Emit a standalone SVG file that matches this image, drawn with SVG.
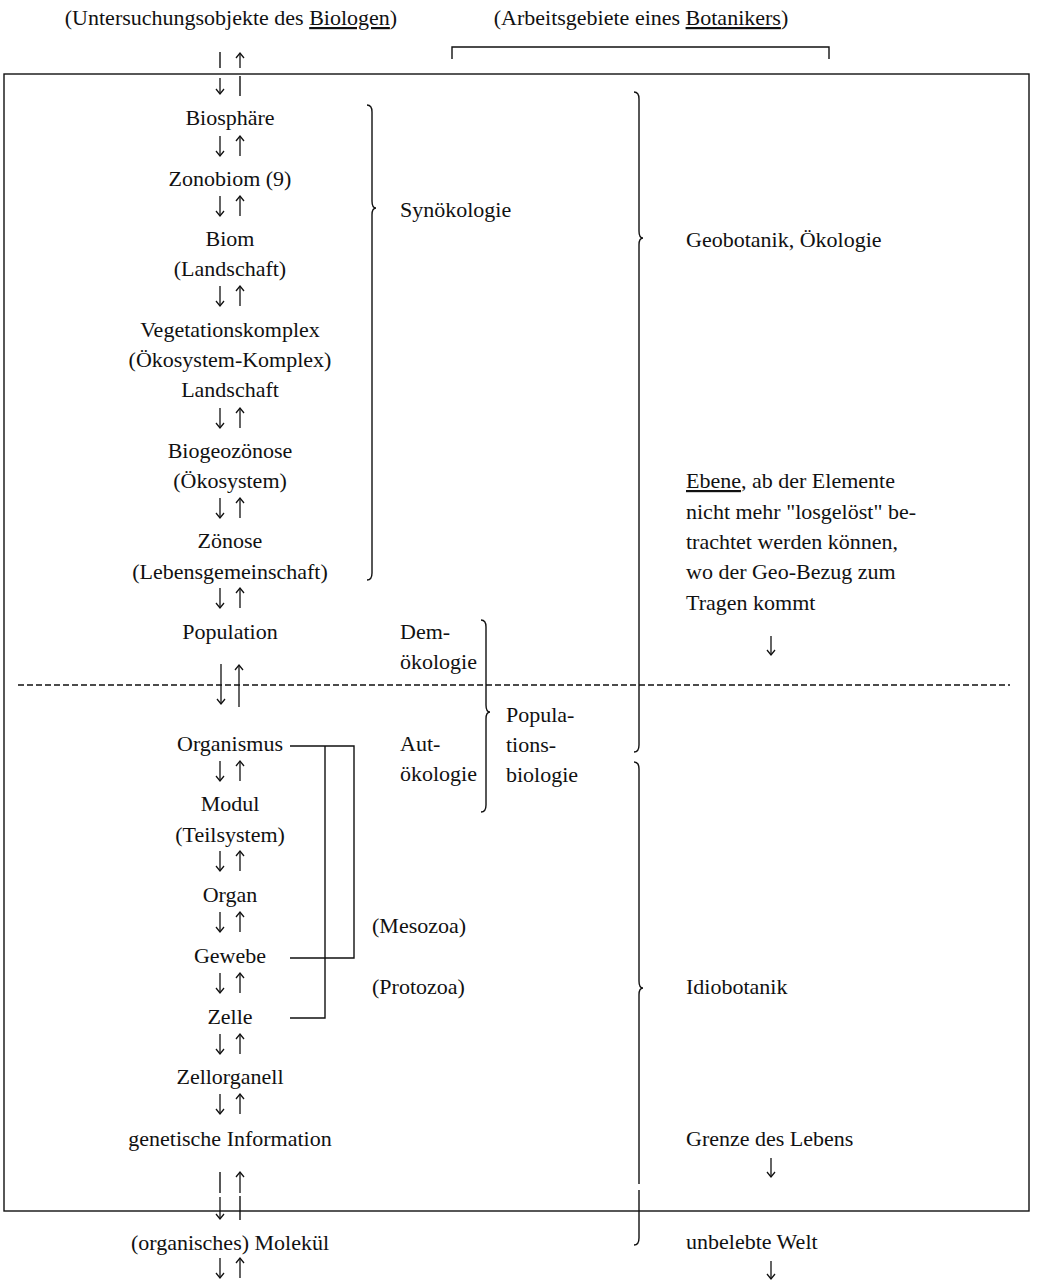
<svg xmlns="http://www.w3.org/2000/svg" width="1037" height="1282" viewBox="0 0 1037 1282">
<defs>
<style>
text{font-family:"Liberation Serif","Times New Roman",serif;font-size:22px;fill:#111}
.c{text-anchor:middle}
.ln{fill:none;stroke:#111;stroke-width:1.4}
.ar{fill:none;stroke:#111;stroke-width:1.3;marker-end:url(#ah)}
.u{text-decoration:underline}
</style>
<marker id="ah" viewBox="-6 -6 12 12" markerWidth="12" markerHeight="12" refX="0" refY="0" orient="auto" markerUnits="userSpaceOnUse">
<path d="M-5,-4 L0,0 L-5,4" fill="none" stroke="#111" stroke-width="1.3"/>
</marker>
</defs>
<rect width="1037" height="1282" fill="#fff"/>

<g id="frame">
<rect x="4" y="74" width="1025" height="1137" class="ln"/>
<line x1="18" y1="685" x2="1010" y2="685" stroke="#111" stroke-width="1.4" stroke-dasharray="6,3"/>
<path d="M452,59 V47 H829 V59" class="ln"/>
</g>

<g id="titles">
<text x="231" y="25" class="c">(Untersuchungsobjekte des <tspan class="u">Biologen</tspan>)</text>
<text x="641" y="25" class="c">(Arbeitsgebiete eines <tspan class="u">Botanikers</tspan>)</text>
</g>

<g id="n-biosphaere"><text x="230" y="125" class="c">Biosphäre</text></g>
<g id="n-zonobiom"><text x="230" y="186" class="c">Zonobiom (9)</text></g>
<g id="n-biom"><text x="230" y="246" class="c">Biom</text><text x="230" y="276" class="c">(Landschaft)</text></g>
<g id="n-vegetationskomplex"><text x="230" y="337" class="c">Vegetationskomplex</text><text x="230" y="367" class="c">(Ökosystem-Komplex)</text><text x="230" y="397" class="c">Landschaft</text></g>
<g id="n-biogeozoenose"><text x="230" y="458" class="c">Biogeozönose</text><text x="230" y="488" class="c">(Ökosystem)</text></g>
<g id="n-zoenose"><text x="230" y="548" class="c">Zönose</text><text x="230" y="579" class="c">(Lebensgemeinschaft)</text></g>
<g id="n-population"><text x="230" y="639" class="c">Population</text></g>
<g id="n-organismus"><text x="230" y="751" class="c">Organismus</text></g>
<g id="n-modul"><text x="230" y="811" class="c">Modul</text><text x="230" y="842" class="c">(Teilsystem)</text></g>
<g id="n-organ"><text x="230" y="902" class="c">Organ</text></g>
<g id="n-gewebe"><text x="230" y="963" class="c">Gewebe</text></g>
<g id="n-zelle"><text x="230" y="1024" class="c">Zelle</text></g>
<g id="n-zellorganell"><text x="230" y="1084" class="c">Zellorganell</text></g>
<g id="n-geninfo"><text x="230" y="1146" class="c">genetische Information</text></g>
<g id="n-molekuel"><text x="230" y="1250" class="c">(organisches) Molekül</text></g>

<g id="n-synoekologie"><text x="400" y="217">Synökologie</text></g>
<g id="n-demoekologie"><text x="400" y="639">Dem-</text><text x="400" y="669">ökologie</text></g>
<g id="n-autoekologie"><text x="400" y="751">Aut-</text><text x="400" y="781">ökologie</text></g>
<g id="n-populationsbiologie"><text x="506" y="722">Popula-</text><text x="506" y="752">tions-</text><text x="506" y="782">biologie</text></g>
<g id="n-mesozoa"><text x="372" y="933">(Mesozoa)</text></g>
<g id="n-protozoa"><text x="372" y="994">(Protozoa)</text></g>

<g id="n-geobotanik"><text x="686" y="247">Geobotanik, Ökologie</text></g>
<g id="n-ebene">
<text x="686" y="488"><tspan class="u">Ebene</tspan>, ab der Elemente</text>
<text x="686" y="519">nicht mehr "losgelöst" be-</text>
<text x="686" y="549">trachtet werden können,</text>
<text x="686" y="579">wo der Geo-Bezug zum</text>
<text x="686" y="610">Tragen kommt</text>
</g>
<g id="n-idiobotanik"><text x="686" y="994">Idiobotanik</text></g>
<g id="n-grenze"><text x="686" y="1146">Grenze des Lebens</text></g>
<g id="n-unbelebt"><text x="686" y="1249">unbelebte Welt</text></g>

<g id="braces" class="ln">
<path d="M367,105 Q372,105 372,112 V201 Q372,208 376,208 Q372,208 372,215 V573 Q372,580 367,580"/>
<path d="M634,92 Q639,92 639,99 V231 Q639,238 643,238 Q639,238 639,245 V745 Q639,752 634,752"/>
<path d="M634,762 Q639,762 639,769 V981 Q639,988 643,988 Q639,988 639,995 V1184 M639,1190 V1238 Q639,1245 634,1245"/>
<path d="M481,620 Q486,620 486,627 V705 Q486,712 490,712 Q486,712 486,719 V805 Q486,812 481,812"/>
</g>

<g id="connectors">
<path d="M290,746 H354 V958 H290" class="ln"/>
<path d="M325,746 V1018 H290" class="ln"/>
<line x1="220" y1="52" x2="220" y2="68" class="ln"/>
<line x1="220" y1="78" x2="220" y2="94" class="ar"/>
<line x1="240" y1="68" x2="240" y2="53" class="ar"/>
<line x1="240" y1="76" x2="240" y2="96" class="ln"/>
<line x1="220" y1="136" x2="220" y2="156" class="ar"/><line x1="240" y1="156" x2="240" y2="136" class="ar"/>
<line x1="220" y1="196" x2="220" y2="216" class="ar"/><line x1="240" y1="216" x2="240" y2="196" class="ar"/>
<line x1="220" y1="286" x2="220" y2="306" class="ar"/><line x1="240" y1="306" x2="240" y2="286" class="ar"/>
<line x1="220" y1="408" x2="220" y2="428" class="ar"/><line x1="240" y1="428" x2="240" y2="408" class="ar"/>
<line x1="220" y1="498" x2="220" y2="518" class="ar"/><line x1="240" y1="518" x2="240" y2="498" class="ar"/>
<line x1="220" y1="588" x2="220" y2="608" class="ar"/><line x1="240" y1="608" x2="240" y2="588" class="ar"/>
<line x1="221" y1="664" x2="221" y2="704" class="ar"/><line x1="239" y1="707" x2="239" y2="665" class="ar"/>
<line x1="220" y1="761" x2="220" y2="781" class="ar"/><line x1="240" y1="781" x2="240" y2="761" class="ar"/>
<line x1="220" y1="851" x2="220" y2="871" class="ar"/><line x1="240" y1="871" x2="240" y2="851" class="ar"/>
<line x1="220" y1="912" x2="220" y2="932" class="ar"/><line x1="240" y1="932" x2="240" y2="912" class="ar"/>
<line x1="220" y1="973" x2="220" y2="993" class="ar"/><line x1="240" y1="993" x2="240" y2="973" class="ar"/>
<line x1="220" y1="1034" x2="220" y2="1054" class="ar"/><line x1="240" y1="1054" x2="240" y2="1034" class="ar"/>
<line x1="220" y1="1094" x2="220" y2="1114" class="ar"/><line x1="240" y1="1114" x2="240" y2="1094" class="ar"/>
<line x1="220" y1="1172" x2="220" y2="1193" class="ln"/>
<line x1="220" y1="1197" x2="220" y2="1219" class="ar"/>
<line x1="240" y1="1193" x2="240" y2="1172" class="ar"/>
<line x1="240" y1="1196" x2="240" y2="1220" class="ln"/>
<line x1="220" y1="1258" x2="220" y2="1278" class="ar"/><line x1="240" y1="1278" x2="240" y2="1258" class="ar"/>
<line x1="771" y1="636" x2="771" y2="655" class="ar"/>
<line x1="771" y1="1158" x2="771" y2="1177" class="ar"/>
<line x1="771" y1="1261" x2="771" y2="1279" class="ar"/>
</g>
</svg>
